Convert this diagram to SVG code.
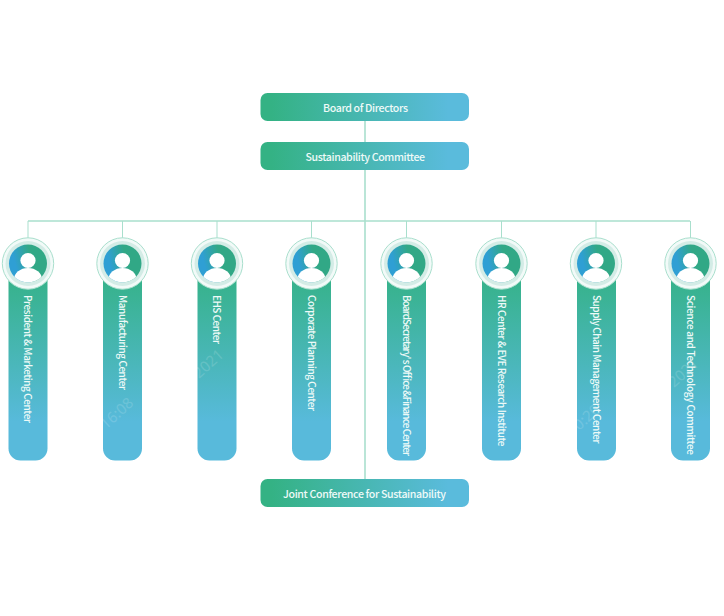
<svg xmlns="http://www.w3.org/2000/svg" width="724" height="616" viewBox="0 0 724 616">
<style>
.t{font-family:"Noto Sans CJK SC","Noto Sans",sans-serif;fill:#eefaf8;font-weight:500}
.h{font-size:10.6px}
.v{font-size:10px}
.l{stroke:#a9dfcd;fill:none}
.wm{font-family:"Noto Sans",sans-serif;font-size:15px;fill:#fff;opacity:.14}
</style>
<defs>
<linearGradient id="hg" x1="0" x2="1" y1="0" y2="0"><stop offset="0.05" stop-color="#34b284"/><stop offset="0.9" stop-color="#5abbdc"/></linearGradient>
<linearGradient id="vg" x1="0" x2="0" y1="0" y2="1"><stop offset="0.05" stop-color="#36b28a"/><stop offset="0.8" stop-color="#58badb"/></linearGradient>
<linearGradient id="cg" x1="0.1" x2="0.9" y1="0.6" y2="0.4"><stop offset="0.1" stop-color="#2f9fd4"/><stop offset="0.65" stop-color="#31a886"/></linearGradient>
<clipPath id="ic"><circle cx="0" cy="0" r="19"/></clipPath>
<g id="avatar">
<circle r="25.7" fill="#f2faf8" stroke="#a9dfcd" stroke-width="1"/>
<circle r="22.500" fill="#d3ece6"/>
<circle r="19" fill="url(#cg)"/>
<g clip-path="url(#ic)" fill="#fff">
<circle cx="0" cy="-3" r="7.6"/>
<ellipse cx="0" cy="16" rx="14" ry="11.5"/>
</g>
</g>
<rect id="bar" x="-19.5" y="268" width="39" height="192.5" rx="12" fill="url(#vg)"/>
</defs>
<rect width="724" height="616" fill="#fff"/>
<g id="connectors" class="l">
<path d="M365 121V479" stroke-width="1.6"/>
<path d="M28 221H690" stroke-width="1.6"/>
<path d="M28 221V239M122.500 221V239M217 221V239M311.500 221V239M406.500 221V239M501.500 221V239M596 221V239M690.500 221V239" stroke-width="1"/>
</g>
<g id="board"><rect x="260.500" y="93" width="208.500" height="28" rx="7" fill="url(#hg)"/><text class="t h" x="323" y="111.500" textLength="85">Board of Directors</text></g>
<g id="committee"><rect x="260.500" y="142" width="208.500" height="28" rx="7" fill="url(#hg)"/><text class="t h" x="305.500" y="160.500" textLength="119.500">Sustainability Committee</text></g>
<g id="conference"><rect x="260.500" y="479" width="208.500" height="28" rx="7" fill="url(#hg)"/><text class="t h" x="283" y="497.500" textLength="163">Joint Conference for Sustainability</text></g>
<g id="n1"><use href="#bar" x="28"/><use href="#avatar" x="28" y="263.500"/><text class="t v" transform="translate(24 295) rotate(90)" textLength="128">President &amp; Marketing Center</text></g>
<g id="n2"><use href="#bar" x="122.500"/><use href="#avatar" x="122.500" y="263.500"/><text class="t v" transform="translate(118.500 295) rotate(90)" textLength="95">Manufacturing Center</text></g>
<g id="n3"><use href="#bar" x="217"/><use href="#avatar" x="217" y="263.500"/><text class="t v" transform="translate(213 295) rotate(90)" textLength="49">EHS Center</text></g>
<g id="n4"><use href="#bar" x="311.500"/><use href="#avatar" x="311.500" y="263.500"/><text class="t v" transform="translate(307.500 295) rotate(90)" textLength="116">Corporate Planning Center</text></g>
<g id="n5"><use href="#bar" x="406.500"/><use href="#avatar" x="406.500" y="263.500"/><text class="t v" transform="translate(402.500 295) rotate(90)" textLength="161">BoardSecretary' s Office &amp;Finance Center</text></g>
<g id="n6"><use href="#bar" x="501.500"/><use href="#avatar" x="501.500" y="263.500"/><text class="t v" transform="translate(497.500 295) rotate(90)" textLength="151.500">HR Center &amp; EVE Research Institute</text></g>
<g id="n7"><use href="#bar" x="596.500"/><use href="#avatar" x="596" y="263.500"/><text class="t v" transform="translate(592.500 295) rotate(90)" textLength="148.500">Supply Chain Management Center</text></g>
<g id="n8"><use href="#bar" x="690.500"/><use href="#avatar" x="690.500" y="263.500"/><text class="t v" transform="translate(686.500 295) rotate(90)" textLength="160">Science and Technology Committee</text></g>
<g id="watermark">
<text class="wm" transform="translate(106 430) rotate(-42)">16:08</text>
<text class="wm" transform="translate(199 379) rotate(-42)">2021</text>
<text class="wm" transform="translate(579 431) rotate(-42)">0:20</text>
<text class="wm" transform="translate(674 388) rotate(-42)">2021</text>
</g>
</svg>
